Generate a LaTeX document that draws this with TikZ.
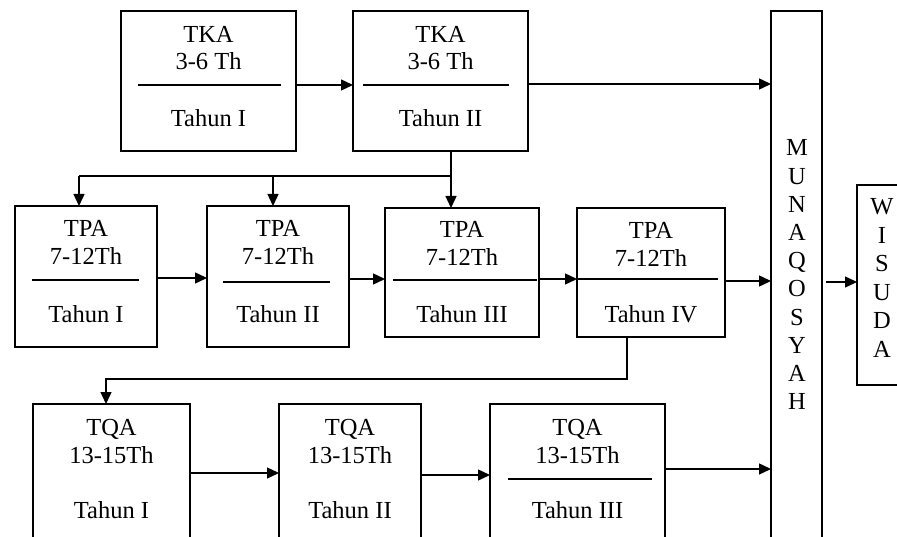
\documentclass[tikz,border=0pt]{standalone}
\usepackage{fontspec}
\setmainfont{Liberation Serif}
\usetikzlibrary{arrows.meta}
\tikzset{
  box/.style={draw, line width=1.4pt, inner sep=0pt, outer sep=0pt},
  txt/.style={inner sep=0pt, anchor=base, font=\fontsize{24.5}{28}\selectfont},
  ln/.style={line width=1.4pt},
  dv/.style={line width=1.4pt},
  arr/.style={line width=1.4pt, -{Triangle[length=12pt,width=11pt]}}
}
\begin{document}
\begin{tikzpicture}[x=1pt,y=-1pt]
\useasboundingbox (0,0) rectangle (897,537);
\clip (0,0) rectangle (897,537);
% boxes
\node[box, minimum width=175, minimum height=140] (tka1) at (208.5,81) {};
\node[box, minimum width=175, minimum height=140] (tka2) at (440.5,81) {};
\node[box, minimum width=142, minimum height=141] (tpa1) at (86,276.5) {};
\node[box, minimum width=142, minimum height=141] (tpa2) at (278,276.5) {};
\node[box, minimum width=154, minimum height=129] (tpa3) at (462,272.5) {};
\node[box, minimum width=148, minimum height=129] (tpa4) at (651,272.5) {};
\node[box, minimum width=157, minimum height=146] (tqa1) at (111.5,477) {};
\node[box, minimum width=142, minimum height=146] (tqa2) at (350,477) {};
\node[box, minimum width=175, minimum height=146] (tqa3) at (577.5,477) {};
\node[box, minimum width=51, minimum height=539] (mun) at (796.5,280.5) {};
\node[box, minimum width=53, minimum height=200] (wis) at (883.5,285) {};
% texts
\node[txt] (tka1a) at (208.5,43) {TKA};
\node[txt] (tka1b) at (208.5,70) {3-6 Th};
\node[txt] (tka1c) at (208.5,127) {Tahun I};
\node[txt] (tka2a) at (440.5,43) {TKA};
\node[txt] (tka2b) at (440.5,70) {3-6 Th};
\node[txt] (tka2c) at (440.5,127) {Tahun II};
\node[txt] (tpa1a) at (86,237) {TPA};
\node[txt] (tpa1b) at (86,265) {7-12Th};
\node[txt] (tpa1c) at (86,323) {Tahun I};
\node[txt] (tpa2a) at (278,237) {TPA};
\node[txt] (tpa2b) at (278,265) {7-12Th};
\node[txt] (tpa2c) at (278,323) {Tahun II};
\node[txt] (tpa3a) at (462,238) {TPA};
\node[txt] (tpa3b) at (462,266) {7-12Th};
\node[txt] (tpa3c) at (462,323) {Tahun III};
\node[txt] (tpa4a) at (651,239) {TPA};
\node[txt] (tpa4b) at (651,267) {7-12Th};
\node[txt] (tpa4c) at (651,323) {Tahun IV};
\node[txt] (tqa1a) at (111.5,435) {TQA};
\node[txt] (tqa1b) at (111.5,463) {13-15Th};
\node[txt] (tqa1c) at (111.5,518) {Tahun I};
\node[txt] (tqa2a) at (350,435) {TQA};
\node[txt] (tqa2b) at (350,463) {13-15Th};
\node[txt] (tqa2c) at (350,518) {Tahun II};
\node[txt] (tqa3a) at (577.5,435) {TQA};
\node[txt] (tqa3b) at (577.5,463) {13-15Th};
\node[txt] (tqa3c) at (577.5,518) {Tahun III};
\foreach \l [count=\i] in {M,U,N,A,Q,O,S,Y,A,H}
  \node[txt] (mun\i) at (797,{156+28.2*(\i-1)}) {\l};
\foreach \l [count=\i] in {W,I,S,U,D,A}
  \node[txt] (wis\i) at (882,{215+28.4*(\i-1)}) {\l};
% dividers
\draw[dv] (138,85) -- (281,85);
\draw[dv] (363,85) -- (509,85);
\draw[dv, line width=2pt] (32,280) -- (139,280);
\draw[dv] (223,282) -- (330,282);
\draw[dv] (393,280) -- (537,280);
\draw[dv] (577,279) -- (718,279);
\draw[dv] (508,479) -- (652,479);
% connectors
\draw[arr] (tka1.east |- 0,85) -- (tka2.west |- 0,85);
\draw[arr] (tka2.east |- 0,84) -- (mun.west |- 0,84);
\coordinate (bl) at (79,176);
\coordinate (bm) at (273,176);
\coordinate (br) at (451,176);
\draw[ln] (bl) -- (br);
\draw[arr] (tka2.south -| br) -- (tpa3.north -| br);
\draw[arr] (bl) -- (tpa1.north -| bl);
\draw[arr] (bm) -- (tpa2.north -| bm);
\draw[arr] (tpa1.east |- 0,278) -- (tpa2.west |- 0,278);
\draw[arr] (tpa2.east |- 0,279) -- (tpa3.west |- 0,279);
\draw[arr] (tpa3.east |- 0,279) -- (tpa4.west |- 0,279);
\draw[arr] (tpa4.east |- 0,281) -- (mun.west |- 0,281);
\draw[arr] (mun.east |- 0,282) ++(4,0) -- (wis.west |- 0,282);
\coordinate (r1) at (627,379);
\coordinate (r2) at (106,379);
\draw[arr] (tpa4.south -| r1) -- (r1) -- (r2) -- (tqa1.north -| r2);
\draw[arr] (tqa1.east |- 0,473) -- (tqa2.west |- 0,473);
\draw[arr] (tqa2.east |- 0,475) -- (tqa3.west |- 0,475);
\draw[arr] (tqa3.east |- 0,469) -- (mun.west |- 0,469);
\end{tikzpicture}
\end{document}
